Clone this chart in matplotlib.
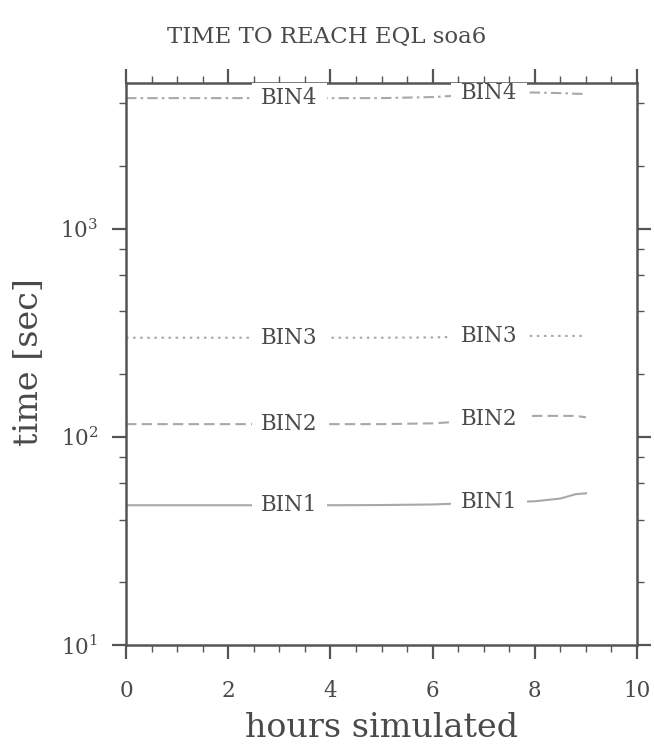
import matplotlib
matplotlib.use("Agg")
import matplotlib.pyplot as plt
from matplotlib.ticker import FixedLocator, NullFormatter
import numpy as np

plt.rcParams['font.family'] = ['DejaVu Serif']
plt.rcParams['mathtext.fontset'] = 'dejavuserif'

title = "TIME TO REACH EQL soa6"
xlabel = "hours simulated"
ylabel = "time [sec]"

hours = [0, 1, 2, 3, 4, 5, 6, 6.5, 7, 7.5, 8, 8.5, 8.8, 9.0]
bin1 = [46.9, 46.9, 46.9, 46.9, 46.9, 47.0, 47.3, 47.8, 48.3, 48.6, 49.0, 50.5, 53.0, 53.5]
bin2 = [115, 115, 115, 115, 115, 115, 116, 118, 121, 124, 126, 126, 126, 124]
bin3 = [299, 299, 299, 299, 299, 299, 300, 302, 304, 305, 305, 305, 305, 305]
bin4 = [4230, 4230, 4230, 4230, 4230, 4230, 4280, 4350, 4450, 4500, 4500, 4470, 4440, 4430]
series = [("BIN1", bin1, "-"), ("BIN2", bin2, (0, (5, 2.5))),
          ("BIN3", bin3, (0, (1.2, 2.2))), ("BIN4", bin4, (0, (5, 2, 1.2, 2)))]
label_x = [3.2, 7.1]

fig = plt.figure(figsize=(6.54, 7.47), dpi=100)
ax = fig.add_axes([0.1927, 1 - 645 / 747, (637 - 126) / 654, (645 - 83) / 747])

text_col = "#4a4a4a"
line_col = "#a8a8a8"
frame_col = "#555555"

for name, vals, ls in series:
    ax.plot(hours, vals, color=line_col, linestyle=ls, lw=1.5)
    for lx in label_x:
        ly = np.exp(np.interp(lx, hours, np.log(vals)))
        ax.text(lx, ly, name, ha="center", va="center", fontsize=15.5, color=text_col,
                clip_on=True,
                bbox=dict(facecolor="white", edgecolor="none", pad=7))

ax.set_yscale("log")
ax.set_xlim(0, 10)
ax.set_ylim(10, 5000)

ax.xaxis.set_major_locator(FixedLocator([0, 2, 4, 6, 8, 10]))
ax.xaxis.set_minor_locator(FixedLocator(np.arange(0, 10.01, 0.5)))
ax.yaxis.set_major_locator(FixedLocator([10, 100, 1000]))
ax.yaxis.set_minor_locator(FixedLocator([20, 40, 60, 80, 200, 400, 600, 800, 2000, 4000]))
ax.yaxis.set_minor_formatter(NullFormatter())
ax.set_yticklabels(["10$^{1}$", "10$^{2}$", "10$^{3}$"])

ax.tick_params(which="both", direction="out", top=True, right=True,
               colors=frame_col, labelcolor=text_col, labelsize=15.5)
ax.tick_params(which="major", length=10, width=1.6)
ax.tick_params(axis="x", which="major", pad=15)
ax.tick_params(axis="y", which="major", pad=10)
ax.tick_params(which="minor", length=5, width=1.0)

for s in ax.spines.values():
    s.set_color(frame_col)
    s.set_linewidth(1.8)

fig.text(0.5, 1 - 43 / 747, title, ha="center", va="baseline", fontsize=16.5, color=text_col)
fig.text((126 + 637) / 2 / 654, 1 - 737 / 747, xlabel, ha="center", va="baseline",
         fontsize=24, color=text_col)
fig.text(29 / 654, 1 - 362 / 747, ylabel, ha="center", va="center", rotation=90,
         fontsize=24, color=text_col)

fig.savefig("out.png", dpi=100, facecolor="white")
